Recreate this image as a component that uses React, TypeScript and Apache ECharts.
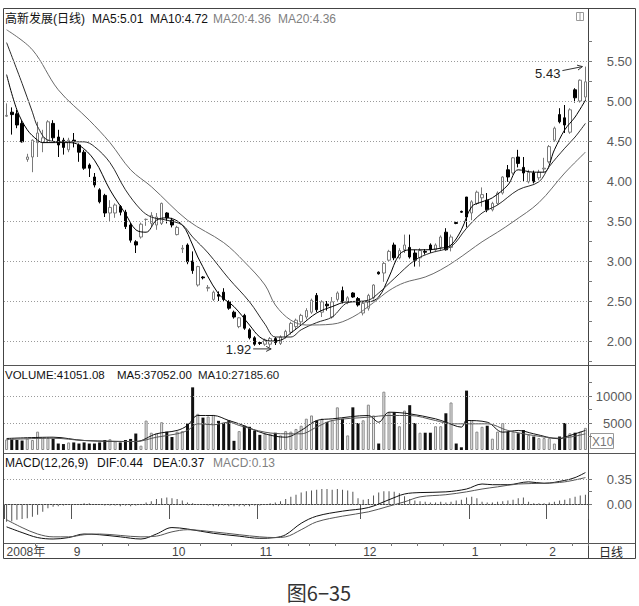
import React, { useEffect, useRef } from 'react';
import * as echarts from 'echarts';

// [open, close, low, high] per trading day
const candles: number[][] = [
  [4.81, 4.82, 4.80, 4.97], [4.86, 4.83, 4.58, 4.92], [4.84, 4.70, 4.66, 4.89], [4.72, 4.49, 4.48, 4.76],
  [4.27, 4.30, 4.24, 4.34], [4.30, 4.51, 4.11, 4.52], [4.48, 4.60, 4.30, 4.74], [4.48, 4.54, 4.36, 4.64],
  [4.51, 4.74, 4.48, 4.76], [4.72, 4.54, 4.50, 4.76], [4.55, 4.45, 4.30, 4.64], [4.51, 4.42, 4.33, 4.54],
  [4.39, 4.51, 4.36, 4.54], [4.51, 4.50, 4.42, 4.60], [4.45, 4.36, 4.24, 4.47], [4.36, 4.16, 4.14, 4.39],
  [4.20, 4.16, 4.05, 4.22], [4.05, 3.95, 3.92, 4.10], [3.89, 3.74, 3.72, 3.91], [3.82, 3.60, 3.55, 3.84],
  [3.60, 3.67, 3.49, 3.76], [3.60, 3.70, 3.54, 3.72], [3.68, 3.61, 3.57, 3.70], [3.61, 3.43, 3.40, 3.64],
  [3.45, 3.26, 3.23, 3.48], [3.24, 3.20, 3.10, 3.26], [3.30, 3.46, 3.28, 3.48], [3.52, 3.52, 3.44, 3.53],
  [3.47, 3.57, 3.43, 3.61], [3.45, 3.55, 3.39, 3.60], [3.47, 3.72, 3.45, 3.73], [3.60, 3.54, 3.47, 3.61],
  [3.51, 3.45, 3.42, 3.54], [3.33, 3.42, 3.32, 3.44], [3.15, 3.16, 3.10, 3.20], [3.20, 2.99, 2.96, 3.22],
  [3.00, 2.88, 2.84, 3.12], [2.70, 2.93, 2.68, 2.94], [2.80, 2.79, 2.77, 2.81], [2.66, 2.67, 2.62, 2.70],
  [2.52, 2.61, 2.50, 2.63], [2.58, 2.56, 2.50, 2.62], [2.61, 2.52, 2.50, 2.66], [2.49, 2.41, 2.39, 2.51],
  [2.36, 2.30, 2.28, 2.38], [2.18, 2.29, 2.16, 2.30], [2.32, 2.16, 2.14, 2.34], [2.14, 2.04, 2.02, 2.16],
  [2.04, 1.96, 1.94, 2.06], [1.98, 1.97, 1.95, 2.00], [1.96, 2.01, 1.94, 2.03], [1.96, 2.03, 1.92, 2.05],
  [2.03, 1.98, 1.95, 2.05], [1.97, 2.05, 1.95, 2.07], [2.05, 2.12, 2.03, 2.14], [2.11, 2.22, 2.08, 2.24],
  [2.18, 2.26, 2.15, 2.28], [2.24, 2.32, 2.20, 2.34], [2.30, 2.38, 2.27, 2.41], [2.36, 2.51, 2.34, 2.53],
  [2.57, 2.39, 2.36, 2.60], [2.36, 2.49, 2.30, 2.51], [2.46, 2.44, 2.38, 2.50], [2.30, 2.49, 2.28, 2.55],
  [2.52, 2.60, 2.50, 2.62], [2.63, 2.49, 2.47, 2.68], [2.48, 2.54, 2.46, 2.56], [2.60, 2.55, 2.54, 2.61],
  [2.53, 2.45, 2.43, 2.55], [2.35, 2.47, 2.32, 2.49], [2.41, 2.57, 2.38, 2.59], [2.54, 2.70, 2.52, 2.71],
  [2.86, 2.84, 2.83, 2.87], [2.85, 2.97, 2.74, 2.99], [3.01, 3.12, 3.00, 3.14], [3.20, 3.04, 3.01, 3.23],
  [3.04, 3.13, 3.02, 3.16], [3.14, 3.20, 3.10, 3.33], [3.17, 3.05, 3.03, 3.33], [3.10, 3.01, 2.93, 3.14],
  [3.04, 3.13, 2.93, 3.16], [3.12, 3.11, 3.08, 3.15], [3.20, 3.14, 3.10, 3.22], [3.14, 3.20, 3.11, 3.22],
  [3.17, 3.30, 3.13, 3.32], [3.36, 3.14, 3.13, 3.41], [3.17, 3.30, 3.12, 3.33], [3.48, 3.47, 3.46, 3.49],
  [3.62, 3.61, 3.60, 3.63], [3.80, 3.55, 3.42, 3.80], [3.60, 3.74, 3.51, 3.76], [3.72, 3.86, 3.70, 3.88],
  [3.79, 3.83, 3.68, 3.92], [3.76, 3.64, 3.61, 3.85], [3.64, 3.72, 3.62, 3.74], [3.72, 3.85, 3.70, 3.87],
  [3.85, 4.05, 3.83, 4.06], [4.14, 4.05, 3.99, 4.20], [4.10, 4.29, 4.08, 4.30], [4.30, 4.22, 4.17, 4.39],
  [4.17, 4.10, 3.99, 4.30], [3.99, 4.11, 3.97, 4.14], [4.10, 3.99, 3.97, 4.13], [4.04, 4.11, 4.01, 4.14],
  [4.15, 4.16, 4.11, 4.29], [4.24, 4.43, 4.22, 4.45], [4.51, 4.66, 4.49, 4.68], [4.83, 4.74, 4.72, 4.91],
  [4.79, 4.70, 4.60, 4.95], [4.61, 4.89, 4.59, 4.91], [5.14, 5.04, 4.98, 5.16], [5.00, 5.26, 4.98, 5.27],
  [5.05, 5.24, 5.00, 5.43],
];

// volume (x10 shares)
const volumes: number[] = [
  1950, 1950, 1850, 1750, 2100, 1850, 3400, 2250, 2250, 2100, 1200, 1100, 1400, 1400, 1200, 1400,
  1200, 1200, 1400, 1850, 2000, 1600, 1400, 1850, 2050, 3050, 800, 5450, 3200, 3050, 5150, 3400,
  2400, 3400, 3500, 4900, 11600, 6700, 6000, 6200, 6500, 5400, 5000, 5500, 1700, 3500, 4500, 4300,
  3600, 2800, 3000, 3000, 3200, 2700, 3500, 3400, 3900, 4500, 5800, 6400, 5450, 5800, 5200, 5500,
  7900, 5800, 2700, 7900, 5000, 5500, 8400, 6400, 1200, 10800, 6950, 7000, 4400, 7300, 8300, 5000,
  3200, 3200, 3200, 4400, 4400, 6800, 8800, 1200, 500, 11000, 5500, 3400, 4300, 4500, 2100, 3400,
  5000, 3400, 3400, 3100, 3700, 2800, 2500, 2200, 2200, 2200, 1200, 2500, 5000, 3100, 3200, 3400,
  4100,
];

const macdBars: number[] = [
  -0.25, -0.24, -0.22, -0.21, -0.20, -0.18, -0.15, -0.11, -0.06, -0.04, -0.03, -0.02, -0.01,
  -0.01, -0.01, 0.01, 0.01, -0.01, -0.01, -0.02, -0.02, -0.02, -0.03, -0.02, -0.03, -0.02, -0.01,
  0.02, 0.04, 0.07, 0.08, 0.09, 0.08, 0.07, 0.05, 0.02, 0.01,
  -0.01, -0.01, -0.02, -0.03, -0.03, -0.02, -0.03, -0.03, -0.03, -0.03, -0.03, -0.02, -0.02, -0.01,
  0.01, 0.02, 0.04, 0.07, 0.10, 0.13, 0.16, 0.18, 0.19, 0.20, 0.21, 0.21, 0.20, 0.21, 0.20, 0.19, 0.17,
  0.08, 0.06, 0.07, 0.12, 0.16, 0.18, 0.18, 0.17, 0.15, 0.11, 0.07, 0.05,
  0.04, 0.03, 0.02, 0.02, 0.03, 0.02, 0.03, 0.05, 0.06,
  0.09, 0.10, 0.08,
  0.03, 0.02, 0.02, 0.03, 0.04, 0.05, 0.06,
  0.08, 0.09, 0.03,
  0.01, 0.01, 0.01, 0.02, 0.03, 0.05, 0.06, 0.08, 0.10, 0.12, 0.13,
];

// moving-average lines: [day index, value]
const ma5: number[][] = [
  [0, 5.33], [2, 4.89], [4, 4.64], [6, 4.51], [7, 4.48], [12, 4.48], [14, 4.45], [17, 4.26], [20, 3.89],
  [23, 3.59], [25, 3.39], [27, 3.36], [29, 3.51], [31, 3.54], [34, 3.45], [36, 3.20], [37, 3.05], [41, 2.59],
  [44, 2.43], [47, 2.20], [49, 2.05], [51, 2.00], [53, 2.01], [55, 2.10], [57, 2.20], [60, 2.35], [63, 2.43],
  [66, 2.49], [70, 2.49], [72, 2.55], [74, 2.80], [76, 3.08], [78, 3.14], [81, 3.14], [84, 3.16], [86, 3.20],
  [88, 3.39], [90, 3.68], [92, 3.74], [94, 3.79], [97, 3.95], [99, 4.14], [102, 4.11], [104, 4.11],
  [106, 4.39], [108, 4.64], [110, 4.80], [112, 5.01],
];
const ma10: number[][] = [
  [0, 5.73], [3, 5.22], [5, 4.86], [6, 4.68], [8, 4.51], [11, 4.49], [15, 4.49], [17, 4.43], [20, 4.23],
  [23, 3.89], [26, 3.64], [28, 3.55], [31, 3.51], [34, 3.45], [36, 3.30], [39, 3.10], [43, 2.78], [47, 2.49],
  [50, 2.21], [52, 2.05], [55, 2.05], [57, 2.14], [60, 2.23], [63, 2.30], [66, 2.48], [70, 2.51], [72, 2.60],
  [75, 2.78], [79, 3.01], [82, 3.10], [86, 3.18], [89, 3.41], [92, 3.60], [95, 3.70], [99, 3.89], [103, 3.99],
  [105, 4.18], [108, 4.41], [110, 4.55], [112, 4.72],
];
const ma20: number[][] = [
  [0, 5.89], [5, 5.64], [10, 5.14], [16, 4.76], [20, 4.48], [24, 4.14], [28, 3.93], [35, 3.51], [42, 3.23],
  [46, 2.99], [50, 2.70], [52, 2.45], [55, 2.26], [58, 2.20], [63, 2.21], [67, 2.30], [71, 2.48], [74, 2.63],
  [77, 2.73], [81, 2.80], [84, 2.89], [87, 3.01], [92, 3.24], [95, 3.36], [98, 3.49], [103, 3.73], [108, 4.10],
  [112, 4.36],
];
const volMa5: number[][] = [
  [0, 2130], [9, 2370], [15, 1760], [25, 1570], [29, 3000], [33, 3620], [35, 4550], [37, 6390], [40, 6390],
  [43, 5460], [45, 4850], [50, 3000], [54, 2370], [57, 3620], [60, 5460], [63, 5770], [70, 6390], [72, 5150],
  [74, 7000], [78, 6700], [83, 5770], [85, 5150], [88, 4240], [89, 5460], [93, 5150], [96, 3300], [99, 3620],
  [102, 3000], [107, 2070], [108, 2370], [112, 3620],
];
const volMa10: number[][] = [
  [0, 1940], [9, 2180], [15, 1760], [25, 1570], [29, 2370], [33, 3000], [35, 3620], [37, 4850], [40, 4670],
  [43, 5150], [45, 4550], [50, 3300], [54, 3000], [57, 3000], [60, 4240], [63, 5460], [70, 6080], [74, 6390],
  [78, 6390], [83, 5460], [86, 4850], [89, 4850], [93, 4850], [97, 3620], [102, 2690], [107, 2180], [112, 3000],
];
const dif: number[][] = [
  [0, -0.32], [3, -0.40], [6, -0.47], [9, -0.49], [12, -0.47], [15, -0.42], [18, -0.43], [22, -0.46],
  [26, -0.49], [29, -0.42], [32, -0.33], [35, -0.35], [40, -0.41], [45, -0.45], [49, -0.48], [52, -0.47],
  [54, -0.43], [57, -0.27], [60, -0.17], [65, -0.10], [70, -0.05], [74, 0.06], [77, 0.14], [80, 0.16],
  [85, 0.17], [89, 0.21], [92, 0.28], [94, 0.27], [97, 0.27], [101, 0.31], [104, 0.29], [108, 0.33],
  [110, 0.37], [112, 0.44],
];
const dea: number[][] = [
  [0, -0.22], [3, -0.33], [6, -0.42], [9, -0.46], [12, -0.46], [15, -0.43], [18, -0.42], [22, -0.44],
  [26, -0.46], [29, -0.45], [32, -0.39], [35, -0.36], [40, -0.39], [45, -0.43], [49, -0.46], [52, -0.47],
  [54, -0.46], [57, -0.36], [60, -0.25], [65, -0.17], [70, -0.11], [74, -0.03], [77, 0.03], [80, 0.10],
  [85, 0.13], [89, 0.17], [92, 0.21], [95, 0.24], [99, 0.28], [104, 0.29], [108, 0.31], [112, 0.37],
];

const monthTicks: [number, string][] = [
  [0, '2008年'], [13, '9'], [32, '10'], [49, '11'], [69, '12'], [90, '1'], [105, '2'],
];
const weekTicks: number[] = [6, 19, 24, 38, 44, 55, 59, 64, 75, 80, 85, 96, 101, 110];

const priceLabels = [2.0, 2.5, 3.0, 3.5, 4.0, 4.5, 5.0, 5.5];
const priceTicks = [1.75, 2.0, 2.25, 2.5, 2.75, 3.0, 3.25, 3.5, 3.75, 4.0, 4.25, 4.5, 4.75, 5.0, 5.25, 5.5, 5.75];
const volLabels = [5000, 10000];
const volTicks = [2500, 5000, 7500, 10000, 12500];
const macdLabels = [0, 0.35];
const macdTicks = [0, 0.175, 0.35];

const priceTitle: [string, number, string][] = [
  ['高新发展(日线)', 5, '#111'], ['MA5:5.01', 92, '#111'], ['MA10:4.72', 150, '#111'],
  ['MA20:4.36', 213, '#808080'], ['MA20:4.36', 278, '#808080'],
];
const volTitle: [string, number, string][] = [
  ['VOLUME:41051.08', 5, '#111'], ['MA5:37052.00', 117, '#111'], ['MA10:27185.60', 198, '#222'],
];
const macdTitle: [string, number, string][] = [
  ['MACD(12,26,9)', 5, '#111'], ['DIF:0.44', 97, '#111'], ['DEA:0.37', 153, '#111'], ['MACD:0.13', 213, '#808080'],
];

const FONT = '"Liberation Sans", Arial, "Noto Sans CJK SC", sans-serif';

export default function App() {
  const ref = useRef<HTMLDivElement>(null);
  useEffect(() => {
    const el = ref.current;
    if (!el) return;
    const chart = echarts.init(el, null, { renderer: 'svg' });
    const days = candles.map((_, i) => String(i));
    const monthIdx = monthTicks.map((m) => m[0]);
    const isUp = (i: number) => candles[i][1] >= candles[i][0];

    const dotted = (vals: number[]) => ({
      silent: true,
      symbol: ['none', 'none'],
      label: { show: false },
      emphasis: { disabled: true },
      lineStyle: { color: '#9a9a9a', type: [1, 2], width: 1 },
      data: vals.map((v) => ({ yAxis: v })),
    });
    const yCommon = (labels: number[], ticks: number[], fmt: (v: number) => string) => ({
      type: 'value',
      position: 'right',
      axisLine: { show: true, lineStyle: { color: '#444', width: 1 } },
      axisTick: { show: true, length: 4, customValues: ticks, lineStyle: { color: '#777' } },
      axisLabel: {
        show: true, customValues: labels, formatter: fmt, align: 'right', margin: 44,
        color: '#5a5a5a', fontSize: 13, fontFamily: FONT,
      },
      splitLine: { show: false },
    });
    const lineS = (name: string, data: number[][], color: string, xi: number, yi: number) => ({
      name, type: 'line', xAxisIndex: xi, yAxisIndex: yi, data, showSymbol: false, smooth: 0.35,
      lineStyle: { color, width: 1 }, silent: true, z: 3,
    });

    const option: any = {
      animation: false,
      backgroundColor: '#fff',
      grid: [
        { left: 4, top: 29, width: 584, height: 336 },
        { left: 4, top: 366, width: 584, height: 84 },
        { left: 4, top: 454, width: 584, height: 89 },
      ],
      xAxis: [
        { type: 'category', gridIndex: 0, data: days, show: false },
        { type: 'category', gridIndex: 1, data: days, show: false },
        {
          type: 'category', gridIndex: 2, data: days, position: 'bottom',
          axisLine: { show: true, lineStyle: { color: '#444' } },
          axisTick: { show: true, interval: (i: number) => monthIdx.includes(i), length: 15, lineStyle: { color: '#555' } },
          axisLabel: {
            show: true, interval: (i: number) => monthIdx.includes(i),
            formatter: (_v: string, i: number) => {
              const m = monthTicks.find((t) => t[0] === i);
              return m ? m[1] : '';
            },
            align: 'left', margin: 3, fontSize: 12, color: '#444', fontFamily: FONT,
          },
          splitLine: { show: false },
        },
        {
          type: 'category', gridIndex: 2, data: days, position: 'bottom', offset: 0,
          axisLine: { show: false }, axisLabel: { show: false },
          axisTick: { show: true, interval: (i: number) => weekTicks.includes(i), length: 3, lineStyle: { color: '#777' } },
        },
      ],
      yAxis: [
        { ...yCommon(priceLabels, priceTicks, (v: number) => v.toFixed(2)), gridIndex: 0, min: 1.7, max: 5.9 },
        { ...yCommon(volLabels, volTicks, (v: number) => String(v)), gridIndex: 1, min: 0, max: 15556 },
        { ...yCommon(macdLabels, macdTicks, (v: number) => v.toFixed(2)), gridIndex: 2, min: -0.546, max: 0.7 },
      ],
      series: [
        {
          name: 'K', type: 'candlestick', xAxisIndex: 0, yAxisIndex: 0, barWidth: 3,
          data: candles.map((c) => [c[0], c[1], c[2], c[3]]),
          itemStyle: { color: '#ffffff', color0: '#000000', borderColor: '#7a7a7a', borderColor0: '#000000', borderWidth: 1 },
          markLine: dotted(priceLabels),
          silent: true, z: 2,
        },
        lineS('MA5', ma5, '#000', 0, 0),
        lineS('MA10', ma10, '#2a2a2a', 0, 0),
        lineS('MA20', ma20, '#6a6a6a', 0, 0),
        {
          name: 'VOL', type: 'bar', xAxisIndex: 1, yAxisIndex: 1, barWidth: 3,
          data: volumes.map((v, i) => ({
            value: v,
            itemStyle: isUp(i)
              ? { color: '#e8e8e8', borderColor: '#8a8a8a', borderWidth: 1 }
              : { color: '#111', borderColor: '#111', borderWidth: 0 },
          })),
          markLine: dotted(volLabels),
          silent: true, z: 2,
        },
        lineS('VMA5', volMa5, '#111', 1, 1),
        lineS('VMA10', volMa10, '#555', 1, 1),
        {
          name: 'MACD', type: 'bar', xAxisIndex: 2, yAxisIndex: 2, barWidth: 1,
          data: macdBars, itemStyle: { color: '#555' }, markLine: dotted(macdLabels), silent: true, z: 2,
        },
        lineS('DIF', dif, '#111', 2, 2),
        lineS('DEA', dea, '#555', 2, 2),
      ],
    };
    chart.setOption(option);

    // annotations anchored through the axes
    let hiI = 0;
    let loI = 0;
    candles.forEach((c, i) => {
      if (c[3] > candles[hiI][3]) hiI = i;
      if (c[2] < candles[loI][2]) loI = i;
    });
    const hp = chart.convertToPixel({ gridIndex: 0 }, [hiI, candles[hiI][3]]) as number[];
    const lp = chart.convertToPixel({ gridIndex: 0 }, [loI, candles[loI][2]]) as number[];

    const arrow = (x1: number, y1: number, x2: number, y2: number) => {
      const dx = x2 - x1, dy = y2 - y1;
      const len = Math.sqrt(dx * dx + dy * dy);
      const ux = dx / len, uy = dy / len;
      const px = -uy, py = ux;
      return [
        { type: 'line', shape: { x1, y1, x2, y2 }, style: { stroke: '#333', lineWidth: 1 }, silent: true },
        {
          type: 'polyline', silent: true,
          shape: { points: [[x2 - 5 * ux + 2.5 * px, y2 - 5 * uy + 2.5 * py], [x2, y2], [x2 - 5 * ux - 2.5 * px, y2 - 5 * uy - 2.5 * py]] },
          style: { stroke: '#333', lineWidth: 1, fill: 'none' },
        },
      ];
    };
    const txt = (text: string, x: number, y: number, color: string, size = 12, align = 'left', family = FONT) => ({
      type: 'text', silent: true, x, y,
      style: { text, fill: color, font: `${size}px ${family}`, align, verticalAlign: 'middle' },
    });
    const ln = (x1: number, y1: number, x2: number, y2: number, c = '#555') => ({
      type: 'line', silent: true, shape: { x1, y1, x2, y2 }, style: { stroke: c, lineWidth: 1 },
    });

    const graphics: any[] = [
      { type: 'rect', silent: true, shape: { x: 3.5, y: 8.5, width: 632, height: 550 }, style: { stroke: '#444', fill: 'none', lineWidth: 1 } },
      ln(3.5, 365.5, 635.5, 365.5),
      ln(3.5, 453.5, 635.5, 453.5),
      ln(3.5, 543.5, 635.5, 543.5),
      ln(588.5, 8.5, 588.5, 558.5, '#444'),
      { type: 'rect', silent: true, shape: { x: 576.5, y: 12.5, width: 7, height: 8 }, style: { stroke: '#999', fill: 'none', lineWidth: 1 } },
      ln(580, 12.5, 580, 20.5, '#999'),
      ...priceTitle.map(([t, x, c]) => txt(t, x, 19, c)),
      ...volTitle.map(([t, x, c]) => txt(t, x, 375, c, 11.5)),
      ...macdTitle.map(([t, x, c]) => txt(t, x, 463, c)),
      { type: 'rect', silent: true, shape: { x: 590.5, y: 433.5, width: 23, height: 15 }, style: { stroke: '#999', fill: '#fff', lineWidth: 1 } },
      txt('X10', 592, 441.5, '#777', 12),
      txt('日线', 611, 551, '#222', 12, 'center', '"Noto Sans CJK SC", sans-serif'),
      ...arrow(hp[0] - 23, hp[1] + 4, hp[0] - 3, hp[1]),
      txt(candles[hiI][3].toFixed(2), hp[0] - 25, hp[1] + 7, '#222', 13, 'right'),
      ...arrow(lp[0] - 17, lp[1] + 1.5, lp[0] + 1, lp[1] + 1.5),
      txt(candles[loI][2].toFixed(2), lp[0] - 19, lp[1] + 2, '#222', 13, 'right'),
      txt('图6−35', 319, 592, '#333', 20, 'center', '"Noto Sans CJK SC", sans-serif'),
    ];
    chart.setOption({ graphic: graphics });

    return () => chart.dispose();
  }, []);
  return (
    <div
      ref={ref}
      style={{ position: 'fixed', left: 0, top: 0, width: 639, height: 606, background: '#fff' }}
    />
  );
}
